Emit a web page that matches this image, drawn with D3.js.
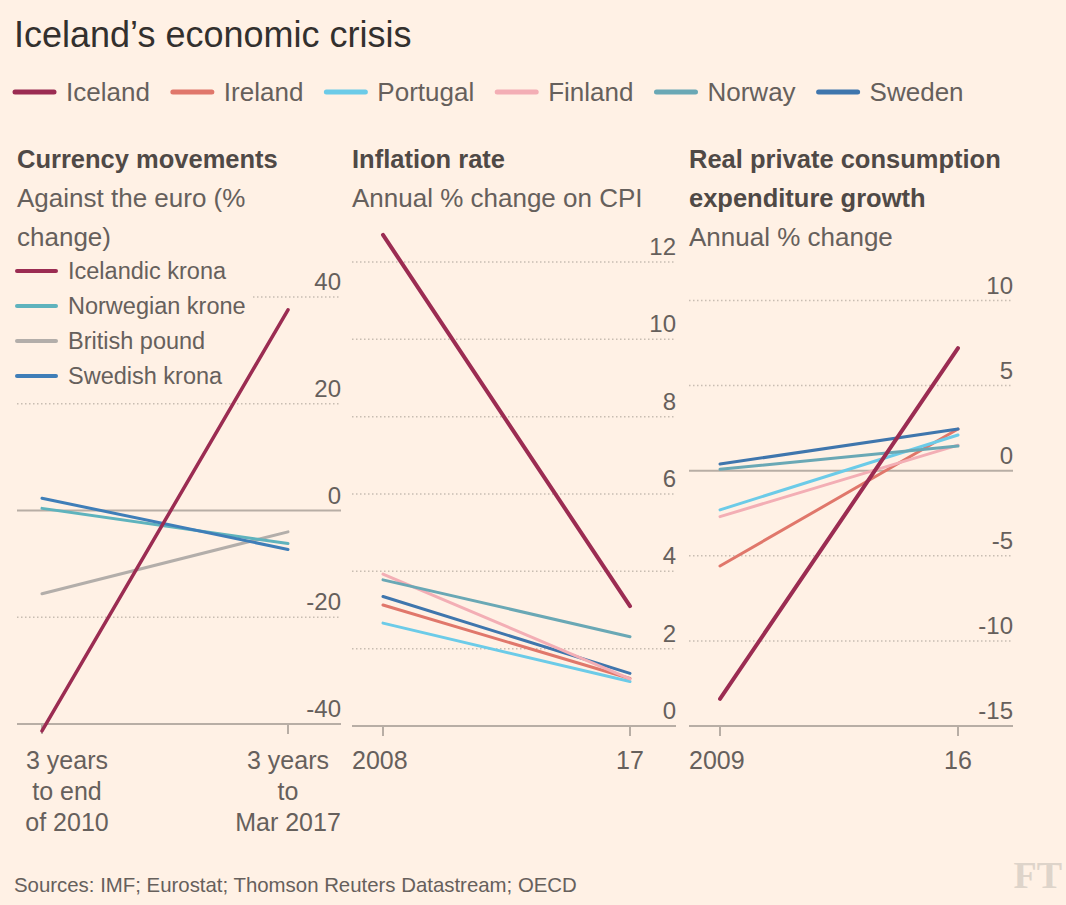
<!DOCTYPE html>
<html><head><meta charset="utf-8">
<script src="https://cdn.jsdelivr.net/npm/d3@7"></script>
<style>
html,body{margin:0;padding:0;background:#fff1e5;}
svg{display:block;}
text{font-family:"Liberation Sans",Arial,sans-serif;}
</style></head>
<body>
<script>
// ---------- DATA ----------
const countries = ["Iceland","Ireland","Portugal","Finland","Norway","Sweden"];
const countryColors = ["#9b2c52","#e0776b","#6ccbe8","#f3aeb5","#6aa8b5","#3f76ad"];

const currencies = ["Icelandic krona","Norwegian krone","British pound","Swedish krona"];
const currencyColors = ["#9b2c52","#5fb3bd","#b3aeaa","#3f7eb8"];
const currencyPeriods = [["3 years","to end","of 2010"],["3 years","to","Mar 2017"]];
const currencyStart = [-41.3, 0.4, -15.6, 2.3];
const currencyEnd = [37.6, -6.2, -4.0, -7.3];
const currencyTicks = [-40,-20,0,20,40];

const inflationYears = ["2008","17"];
const inflation2008 = [12.7, 3.13, 2.66, 3.93, 3.78, 3.35];
const inflation2017 = [3.1, 1.23, 1.15, 1.22, 2.31, 1.36];
const inflationTicks = [0,2,4,6,8,10,12];

const consumptionYears = ["2009","16"];
const consumption2009 = [-13.4, -5.6, -2.3, -2.7, 0.08, 0.39];
const consumption2016 = [7.2, 2.45, 2.1, 1.5, 1.45, 2.45];
const consumptionTicks = [-15,-10,-5,0,5,10];

// ---------- SETUP ----------
const W = 1066, H = 905;
const svg = d3.select("body").append("svg").attr("width",W).attr("height",H);
svg.append("rect").attr("width",W).attr("height",H).attr("fill","#fff1e5");

const dark = "#33302e", mid = "#66605c", grid = "#c8bdb2", solid = "#b8aea5";

svg.append("text").attr("x",14).attr("y",47).attr("font-size",36).attr("fill",dark)
  .text("Iceland\u2019s economic crisis");

// main legend
let lx = 15;
const leg = svg.append("g");
countries.forEach((c,i)=>{
  leg.append("line").attr("x1",lx).attr("x2",lx+39).attr("y1",92).attr("y2",92)
    .attr("stroke",countryColors[i]).attr("stroke-width",5).attr("stroke-linecap","round");
  const t = leg.append("text").attr("x",lx+51).attr("y",101).attr("font-size",26).attr("fill",mid).text(c);
  lx += 51 + t.node().getComputedTextLength() + 23;
});

// ---------- PANEL FACTORY ----------
function panel(opts){
  const g = svg.append("g");
  const y = d3.scaleLinear().domain(opts.domain).range([opts.base, opts.top]);
  const x = d3.scalePoint().domain(opts.xdomain).range([opts.px0, opts.px1]);
  opts.titles.forEach((t,i)=>{
    g.append("text").attr("x",opts.left).attr("y",168+39*i).attr("font-size",25.5)
      .attr("font-weight","bold").attr("fill","#4f4946").text(t);
  });
  opts.subs.forEach((t,i)=>{
    g.append("text").attr("x",opts.left).attr("y",168+39*(opts.titles.length+i)).attr("font-size",26)
      .attr("fill",mid).text(t);
  });
  const gridG = g.append("g");
  opts.ticks.forEach(v=>{
    const isSolid = (v===0 || v===opts.domain[0]);
    gridG.append("line").attr("x1",opts.left).attr("x2",opts.right)
      .attr("y1",y(v)).attr("y2",y(v))
      .attr("stroke",isSolid?solid:grid).attr("stroke-width",isSolid?2:1.5)
      .attr("stroke-dasharray",isSolid?null:"1.5,2.5");
    g.append("text").attr("x",opts.right).attr("y",y(v)-7).attr("text-anchor","end")
      .attr("font-size",24).attr("fill",mid).text(v);
  });
  opts.xdomain.forEach(d=>{
    g.append("line").attr("x1",x(d)).attr("x2",x(d)).attr("y1",opts.base).attr("y2",opts.base+10)
      .attr("stroke",solid).attr("stroke-width",2);
  });
  return {g,x,y,gridG};
}

// Panel 1: currency
const p1 = panel({left:17,right:341,base:724,top:297,domain:[-40,40],ticks:currencyTicks,
  xdomain:["a","b"],px0:42,px1:288,titles:["Currency movements"],subs:["Against the euro (%","change)"]});
const cl = p1.g.append("g");
currencies.forEach((c,i)=>{
  const yy = 271 + 35*i;
  cl.append("line").attr("x1",17).attr("x2",56).attr("y1",yy).attr("y2",yy)
    .attr("stroke",currencyColors[i]).attr("stroke-width",4).attr("stroke-linecap","round");
  cl.append("text").attr("x",68).attr("y",yy+8).attr("font-size",23.5).attr("fill",mid).text(c);
});
const bb = cl.node().getBBox();
cl.insert("rect",":first-child").attr("x",bb.x).attr("y",bb.y).attr("width",bb.width+6).attr("height",bb.height)
  .attr("fill","#fff1e5");
currencyPeriods.forEach((lines,i)=>{
  const cx = i===0 ? 67 : p1.x("b");
  lines.forEach((l,j)=>{
    p1.g.append("text").attr("x",cx).attr("y",769+31*j).attr("text-anchor","middle")
      .attr("font-size",25).attr("fill",mid).text(l);
  });
});
const order1 = [2,1,3,0];
order1.forEach(i=>{
  p1.g.append("line").attr("x1",p1.x("a")).attr("x2",p1.x("b"))
    .attr("y1",p1.y(currencyStart[i])).attr("y2",p1.y(currencyEnd[i]))
    .attr("stroke",currencyColors[i]).attr("stroke-width",i===0?3.5:3).attr("stroke-linecap","round");
});

// Panel 2: inflation
const p2 = panel({left:352,right:676,base:726,top:262,domain:[0,12],ticks:inflationTicks,
  xdomain:inflationYears,px0:383,px1:630,titles:["Inflation rate"],subs:["Annual % change on CPI"]});
p2.g.append("text").attr("x",352).attr("y",769).attr("font-size",25).attr("fill",mid).text(inflationYears[0]);
p2.g.append("text").attr("x",p2.x(inflationYears[1])).attr("y",769).attr("text-anchor","middle").attr("font-size",25).attr("fill",mid).text(inflationYears[1]);
const order2 = [2,1,5,3,4,0];
order2.forEach(i=>{
  p2.g.append("line").attr("x1",p2.x(inflationYears[0])).attr("x2",p2.x(inflationYears[1]))
    .attr("y1",p2.y(inflation2008[i])).attr("y2",p2.y(inflation2017[i]))
    .attr("stroke",countryColors[i]).attr("stroke-width",i===0?4:3).attr("stroke-linecap","round");
});

// Panel 3: consumption
const p3 = panel({left:689,right:1013,base:726,top:300.5,domain:[-15,10],ticks:consumptionTicks,
  xdomain:consumptionYears,px0:720,px1:958,titles:["Real private consumption","expenditure growth"],subs:["Annual % change"]});
p3.g.append("text").attr("x",689).attr("y",769).attr("font-size",25).attr("fill",mid).text(consumptionYears[0]);
p3.g.append("text").attr("x",p3.x(consumptionYears[1])).attr("y",769).attr("text-anchor","middle").attr("font-size",25).attr("fill",mid).text(consumptionYears[1]);
const order3 = [1,3,2,4,5,0];
order3.forEach(i=>{
  p3.g.append("line").attr("x1",p3.x(consumptionYears[0])).attr("x2",p3.x(consumptionYears[1]))
    .attr("y1",p3.y(consumption2009[i])).attr("y2",p3.y(consumption2016[i]))
    .attr("stroke",countryColors[i]).attr("stroke-width",i===0?4:3).attr("stroke-linecap","round");
});

// footer
svg.append("text").attr("x",14).attr("y",892).attr("font-size",20.4).attr("fill",mid)
  .text("Sources: IMF; Eurostat; Thomson Reuters Datastream; OECD");
svg.append("text").attr("x",1062).attr("y",888).attr("text-anchor","end").attr("font-size",38)
  .attr("font-weight","bold").style("font-family","'Liberation Serif','DejaVu Serif',serif").attr("fill","#ded4ca").text("FT");
</script>
</body></html>
